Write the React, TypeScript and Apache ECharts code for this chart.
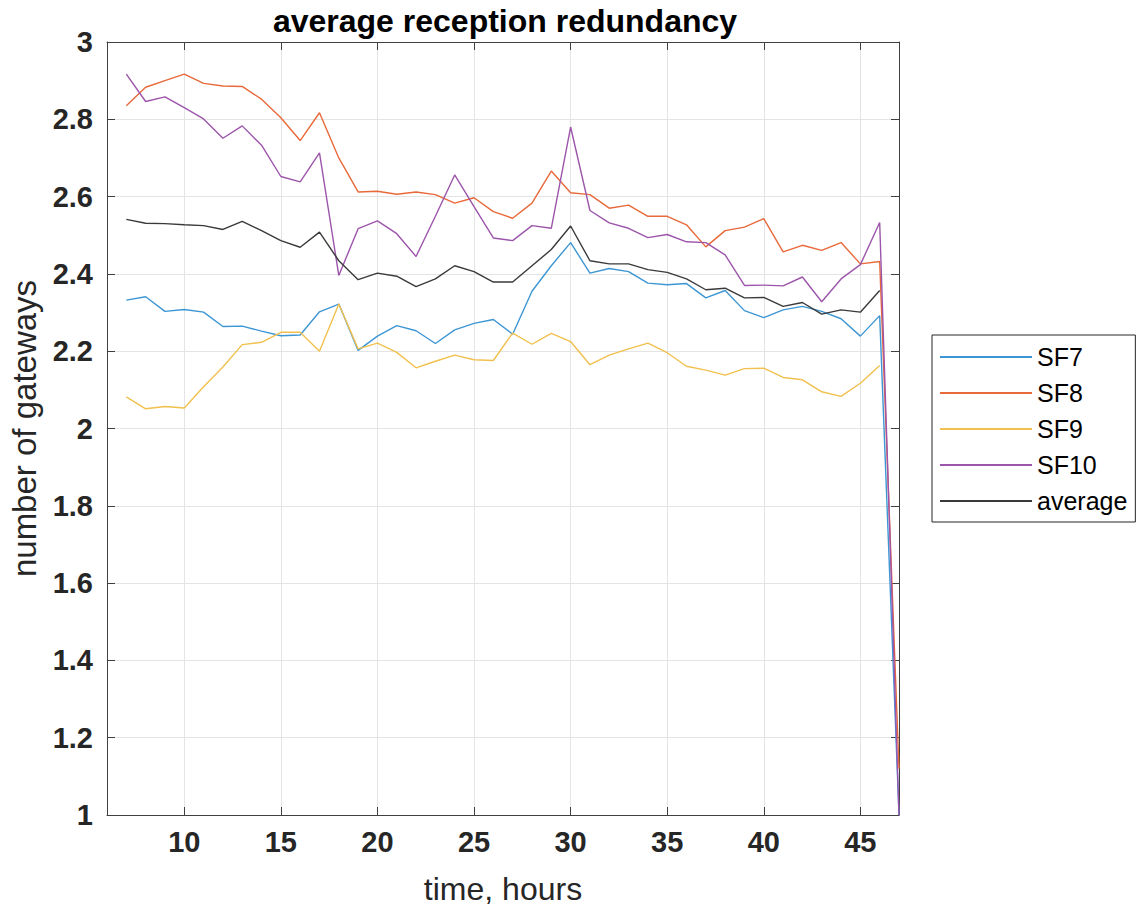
import React, { useEffect, useRef } from "react";
import * as echarts from "echarts";

const hours = [7, 8, 9, 10, 11, 12, 13, 14, 15, 16, 17, 18, 19, 20, 21, 22, 23, 24, 25, 26, 27, 28, 29, 30, 31, 32, 33, 34, 35, 36, 37, 38, 39, 40, 41, 42, 43, 44, 45, 46, 47];

const sf7 = [2.332, 2.341, 2.303, 2.308, 2.301, 2.264, 2.265, 2.252, 2.240, 2.242, 2.302, 2.322, 2.202, 2.239, 2.266, 2.253, 2.220, 2.255, 2.272, 2.282, 2.244, 2.355, 2.421, 2.481, 2.402, 2.414, 2.406, 2.376, 2.372, 2.375, 2.338, 2.357, 2.305, 2.287, 2.307, 2.316, 2.303, 2.284, 2.239, 2.292, 1.0];
const sf8 = [2.835, 2.883, 2.900, 2.917, 2.893, 2.886, 2.885, 2.852, 2.804, 2.745, 2.817, 2.700, 2.612, 2.614, 2.606, 2.612, 2.605, 2.583, 2.597, 2.561, 2.544, 2.583, 2.666, 2.610, 2.605, 2.570, 2.578, 2.549, 2.549, 2.527, 2.470, 2.512, 2.521, 2.543, 2.457, 2.474, 2.461, 2.481, 2.426, 2.432, 1.12];
const sf9 = [2.082, 2.051, 2.057, 2.053, 2.108, 2.159, 2.217, 2.223, 2.249, 2.249, 2.200, 2.322, 2.206, 2.221, 2.197, 2.157, 2.174, 2.190, 2.178, 2.176, 2.247, 2.218, 2.246, 2.225, 2.165, 2.190, 2.206, 2.221, 2.196, 2.161, 2.151, 2.138, 2.155, 2.156, 2.132, 2.126, 2.095, 2.083, 2.117, 2.163, null];
const sf10 = [2.917, 2.846, 2.858, 2.830, 2.801, 2.751, 2.783, 2.733, 2.652, 2.638, 2.713, 2.396, 2.517, 2.537, 2.504, 2.445, 2.549, 2.656, 2.574, 2.493, 2.486, 2.525, 2.518, 2.780, 2.564, 2.532, 2.518, 2.494, 2.502, 2.483, 2.481, 2.449, 2.370, 2.371, 2.369, 2.392, 2.328, 2.387, 2.424, 2.533, 1.0];
const avg = [2.541, 2.531, 2.530, 2.527, 2.525, 2.515, 2.536, 2.512, 2.486, 2.469, 2.508, 2.434, 2.385, 2.402, 2.394, 2.367, 2.387, 2.421, 2.406, 2.379, 2.379, 2.421, 2.463, 2.524, 2.434, 2.426, 2.426, 2.411, 2.404, 2.387, 2.359, 2.363, 2.338, 2.339, 2.316, 2.326, 2.296, 2.307, 2.301, 2.357, null];

const xTicks = [10, 15, 20, 25, 30, 35, 40, 45];
const seriesNames = ["SF7", "SF8", "SF9", "SF10", "average"];
const seriesValues = [sf7, sf8, sf9, sf10, avg];
const seriesColors = ["#3d96d4", "#e8693a", "#f1c04e", "#9c55aa", "#3a3a3a"];

const FONT = "Liberation Sans, Arial, sans-serif";

export default function App() {
  const ref = useRef<HTMLDivElement>(null);
  useEffect(() => {
    if (!ref.current) return;
    const chart = echarts.init(ref.current, null, { renderer: "svg" });
    const axisLineStyle = { color: "#404040", width: 1 };
    chart.setOption({
      animation: false,
      backgroundColor: "#ffffff",
      title: {
        text: "average reception redundancy",
        left: 500,
        textAlign: "center",
        top: 0,
        textStyle: { fontFamily: FONT, fontSize: 32, fontWeight: "bold", color: "#000" },
      },
      legend: {
        orient: "vertical",
        left: 932,
        top: 335,
        icon: "rect",
        itemWidth: 92,
        itemHeight: 2,
        itemGap: 10,
        padding: [9, 8, 8, 8],
        borderColor: "#262626",
        borderWidth: 1,
        backgroundColor: "#fff",
        data: seriesNames,
        textStyle: { fontFamily: FONT, fontSize: 25, color: "#000", lineHeight: 26 },
      },
      grid: { left: 107, top: 42, width: 792, height: 776, containLabel: false },
      xAxis: [
        {
          type: "value",
          min: 6,
          max: 47,
          name: "time, hours",
          nameLocation: "middle",
          nameGap: 58,
          nameTextStyle: { fontFamily: FONT, fontSize: 32, color: "#262626" },
          axisLine: { show: true, lineStyle: axisLineStyle },
          axisTick: { show: true, inside: true, length: 8, customValues: xTicks, lineStyle: axisLineStyle },
          axisLabel: { customValues: xTicks, margin: 12, fontFamily: FONT, fontSize: 29, fontWeight: "bold", color: "#262626" },
          splitLine: { show: true, lineStyle: { color: "#e4e4e4", width: 1 } },
        },
        {
          type: "value",
          min: 6,
          max: 47,
          position: "top",
          axisLine: { show: true, onZero: false, lineStyle: axisLineStyle },
          axisTick: { show: true, inside: true, length: 8, customValues: xTicks, lineStyle: axisLineStyle },
          axisLabel: { show: false },
          splitLine: { show: false },
        },
      ],
      yAxis: [
        {
          type: "value",
          min: 1,
          max: 3,
          interval: 0.2,
          name: "number of gateways",
          nameLocation: "middle",
          nameGap: 66,
          nameTextStyle: { fontFamily: FONT, fontSize: 33, color: "#262626" },
          axisLine: { show: true, lineStyle: axisLineStyle },
          axisTick: { show: true, inside: true, length: 8, lineStyle: axisLineStyle },
          axisLabel: { margin: 14, fontFamily: FONT, fontSize: 29, fontWeight: "bold", color: "#262626" },
          splitLine: { show: true, lineStyle: { color: "#e4e4e4", width: 1 } },
        },
        {
          type: "value",
          min: 1,
          max: 3,
          interval: 0.2,
          position: "right",
          axisLine: { show: true, onZero: false, lineStyle: axisLineStyle },
          axisTick: { show: true, inside: true, length: 8, lineStyle: axisLineStyle },
          axisLabel: { show: false },
          splitLine: { show: false },
        },
      ],
      series: seriesNames.map((name, i) => ({
        name,
        type: "line",
        xAxisIndex: 0,
        yAxisIndex: 0,
        symbol: "none",
        showSymbol: false,
        connectNulls: false,
        clip: true,
        color: seriesColors[i],
        lineStyle: { color: seriesColors[i], width: 1.4 },
        data: hours.map((h, j) => [h, seriesValues[i][j]]),
      })),
    });
    return () => chart.dispose();
  }, []);
  return <div ref={ref} style={{ width: 1138, height: 910, position: "absolute", left: 0, top: 0 }} />;
}
